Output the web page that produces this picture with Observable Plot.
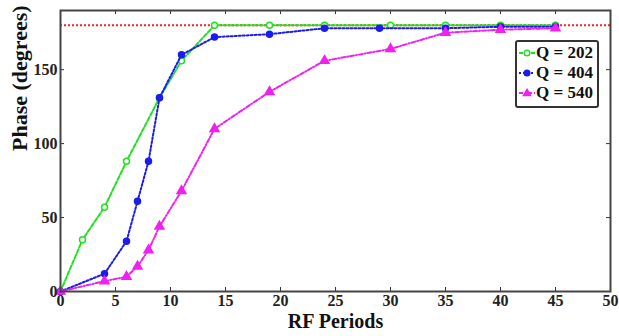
<!DOCTYPE html>
<html><head><meta charset="utf-8">
<script src="https://cdn.jsdelivr.net/npm/d3@7"></script>
<script src="https://cdn.jsdelivr.net/npm/@observablehq/plot@0.6"></script>
<style>
body{margin:0;background:#fff;}
#wrap{position:relative;width:619px;height:336px;}
#legend{position:absolute;left:515px;top:40px;width:80px;height:63px;padding-top:1px;border:2px solid #333;border-radius:3px;background:#fff;font-family:"Liberation Serif","Times New Roman",Times,serif;font-weight:bold;font-size:17px;color:#111;box-sizing:content-box;}
#legend .row{display:flex;align-items:center;height:20px;padding-left:1px;white-space:nowrap;}
#legend svg{margin-right:0;flex:none;}
</style></head>
<body><div id="wrap"><div id="legend"></div></div>
<script>
const seriesNames = ["Q = 202", "Q = 404", "Q = 540"];
const x202 = [0, 2, 4, 6, 9, 11, 14, 19, 24, 30, 35, 40, 45];
const y202 = [0, 35, 57, 88, 131, 156, 180, 180, 180, 180, 180, 180, 180];
const x404 = [0, 4, 6, 7, 8, 9, 11, 14, 19, 24, 29, 35, 40, 45];
const y404 = [0, 12, 34, 61, 88, 131, 160, 172, 174, 178, 178, 178, 179, 179];
const x540 = [0, 4, 6, 7, 8, 9, 11, 14, 19, 24, 30, 35, 40, 45];
const y540 = [0, 7, 10, 17, 28, 44, 68, 110, 135, 156, 164, 175, 177, 178];
const refPhase = [180];
const xTicks = [0, 5, 10, 15, 20, 25, 30, 35, 40, 45, 50];
const yTicks = [0, 50, 100, 150];
const xLabel = "RF Periods";
const yLabel = "Phase (degrees)";

const colors = ["#22e022", "#1c1cf0", "#f020f0"];
const dashes = ["4,2", "2,2", "4,2,1,2"];
const symbols = ["circle", "circle", "triangle"];
const fills = ["white", colors[1], colors[2]];
const radii = [3, 3, 3.3];

const sets = [[x202, y202], [x404, y404], [x540, y540]].map(([xs, ys], k) =>
  xs.map((x, i) => ({x, y: ys[i], s: seriesNames[k]})));

const W = 619, H = 336, mL = 60, mR = 9, mT = 10, mB = 45;
const innerW = W - mL - mR, innerH = H - mT - mB;
const FF = `"Liberation Serif", "Times New Roman", Times, serif`;
const font = {fontFamily: FF, fontWeight: "bold"};

const marks = [
  Plot.ruleY(refPhase, {stroke: "#ff2020", strokeWidth: 2, strokeDasharray: "2,2"}),
];
sets.forEach((d, k) => {
  marks.push(Plot.line(d, {x: "x", y: "y", stroke: colors[k], strokeWidth: 2, strokeDasharray: dashes[k]}));
  marks.push(Plot.dot(d, {x: "x", y: "y", stroke: colors[k], fill: fills[k], symbol: symbols[k], r: radii[k], strokeWidth: 1.5}));
});
marks.push(
  Plot.tickX(xTicks, {x: d => d, insetTop: innerH - 4, stroke: "#333"}),
  Plot.tickX(xTicks, {x: d => d, insetBottom: innerH - 4, stroke: "#333"}),
  Plot.tickY(yTicks, {y: d => d, insetRight: innerW - 4, stroke: "#333"}),
  Plot.tickY(yTicks, {y: d => d, insetLeft: innerW - 4, stroke: "#333"}),
  Plot.frame({stroke: "#444", strokeWidth: 2}),
  Plot.axisX(xTicks, {tickSize: 0, tickPadding: 3, label: null, fontSize: 16, fill: "#222", ...font}),
  Plot.axisY(yTicks, {tickSize: 0, tickPadding: 3, label: null, fontSize: 16, fill: "#222", ...font}),
  Plot.text([yLabel], {frameAnchor: "left", rotate: -90, dx: -41, fontSize: 22, fill: "#111", ...font}),
  Plot.text([xLabel], {frameAnchor: "bottom", dy: 36, fontSize: 20, fill: "#111", ...font})
);

const chart = Plot.plot({
  width: W, height: H,
  marginLeft: mL, marginRight: mR, marginTop: mT, marginBottom: mB,
  x: {domain: [0, 50]},
  y: {domain: [0, 190]},
  style: {fontFamily: FF, background: "white"},
  marks
});
document.getElementById("wrap").prepend(chart);

const legend = document.getElementById("legend");
seriesNames.forEach((name, k) => {
  const row = document.createElement("div");
  row.className = "row";
  const shape = symbols[k] === "triangle"
    ? `<path d="M9,5.5 L12.5,11.5 L5.5,11.5 Z" fill="${fills[k]}" stroke="${colors[k]}" stroke-width="1.5"/>`
    : `<circle cx="9" cy="9" r="2.8" fill="${fills[k]}" stroke="${colors[k]}" stroke-width="1.5"/>`;
  row.innerHTML = `<svg width="18" height="18"><line x1="1" x2="17" y1="9" y2="9" stroke="${colors[k]}" stroke-width="2" stroke-dasharray="${dashes[k]}"/>${shape}</svg><span>${name}</span>`;
  legend.appendChild(row);
});
</script></body></html>
